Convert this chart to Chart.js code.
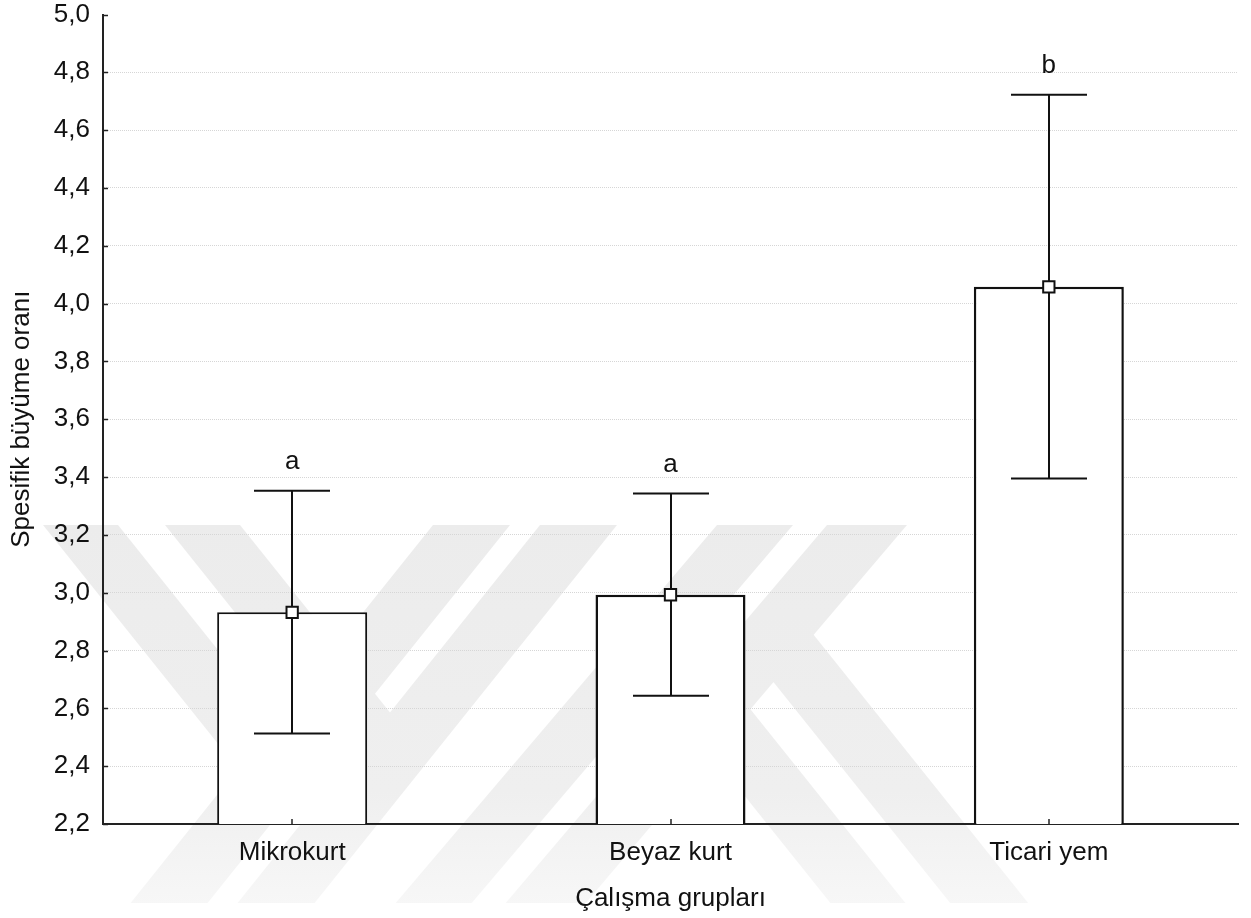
<!DOCTYPE html>
<html lang="tr">
<head>
<meta charset="utf-8">
<title>Spesifik büyüme oranı</title>
<script src="https://cdn.jsdelivr.net/npm/chart.js@4/dist/chart.umd.min.js"></script>
<style>
  html, body { margin: 0; padding: 0; background: #fff; }
  canvas { display: block; }
</style>
</head>
<body>
<canvas id="c" width="1251" height="918"></canvas>
<script>
// Group means with their lower / upper error limits
const groups = ['Mikrokurt', 'Beyaz kurt', 'Ticari yem'];
const means = [2.932, 2.993, 4.058];
const lowerLimits = [2.513, 2.644, 3.395];
const upperLimits = [3.353, 3.343, 4.722];
const groupLetters = ['a', 'a', 'b'];
const yTickValues = [2.2, 2.4, 2.6, 2.8, 3.0, 3.2, 3.4, 3.6, 3.8, 4.0, 4.2, 4.4, 4.6, 4.8, 5.0];

const FONT = '"Liberation Sans", Arial, sans-serif';
const INK = '#111';
const FONT_SIZE = 26;

// Faint diagonal logo printed behind the plot
function slantBand(x0, x1, yTop, yBot, slope) {
  const d = slope * (yBot - yTop);
  return [[x0, yTop], [x1, yTop], [x1 + d, yBot], [x0 + d, yBot]];
}
const logoShapes = [
  slantBand(43, 118, 525, 769, 0.8),
  slantBand(165, 240, 525, 760, 0.8),
  slantBand(433, 510, 525, 903, -0.8),
  slantBand(540, 617, 525, 903, -0.8),
  slantBand(717, 793, 525, 903, -0.85),
  slantBand(827, 907, 525, 903, -0.85),
  slantBand(620, 695, 640, 903, 0.8),
  slantBand(735, 813, 634, 903, 0.8)
];

function fmt(v) {
  return v.toFixed(1).replace('.', ',');
}

const decorPlugin = {
  id: 'decorPlugin',
  beforeDraw(chart) {
    const ctx = chart.ctx;
    ctx.save();
    const g = ctx.createLinearGradient(0, 525, 0, 905);
    g.addColorStop(0, '#ececec');
    g.addColorStop(0.7, '#efefef');
    g.addColorStop(1, '#f7f7f7');
    ctx.fillStyle = g;
    logoShapes.forEach(pts => {
      ctx.beginPath();
      pts.forEach((p, i) => (i ? ctx.lineTo(p[0], p[1]) : ctx.moveTo(p[0], p[1])));
      ctx.closePath();
      ctx.fill();
    });
    ctx.restore();
  },
  afterDatasetDraw(chart, args) {
    if (args.index !== 0) return;
    // error bars: whisker and caps, drawn over the bars, under the mean markers
    const ctx = chart.ctx;
    const y = chart.scales.y;
    const meta = chart.getDatasetMeta(0);
    const capHalf = 38;
    ctx.save();
    ctx.strokeStyle = '#111';
    ctx.lineWidth = 2;
    meta.data.forEach((bar, i) => {
      const x = Math.round(bar.x);
      const yHi = y.getPixelForValue(upperLimits[i]);
      const yLo = y.getPixelForValue(lowerLimits[i]);
      ctx.beginPath();
      ctx.moveTo(x, yHi); ctx.lineTo(x, yLo);
      ctx.moveTo(x - capHalf, yHi); ctx.lineTo(x + capHalf, yHi);
      ctx.moveTo(x - capHalf, yLo); ctx.lineTo(x + capHalf, yLo);
      ctx.stroke();
    });
    ctx.restore();
  },
  afterDatasetsDraw(chart) {
    const ctx = chart.ctx;
    const area = chart.chartArea;
    const y = chart.scales.y;
    const meta = chart.getDatasetMeta(0);
    ctx.save();
    ctx.strokeStyle = '#222';
    ctx.lineWidth = 1.5;
    // inward tick marks on the value axis
    y.ticks.forEach(t => {
      const py = Math.round(y.getPixelForValue(t.value)) + 0.5;
      ctx.beginPath();
      ctx.moveTo(area.left, py); ctx.lineTo(area.left + 5, py);
      ctx.stroke();
    });
    // inward tick marks on the category axis
    meta.data.forEach(bar => {
      const px = Math.round(bar.x);
      ctx.beginPath();
      ctx.moveTo(px, area.bottom); ctx.lineTo(px, area.bottom - 5);
      ctx.stroke();
    });
    // significance letters above the error bars
    ctx.fillStyle = INK;
    ctx.font = FONT_SIZE + 'px ' + FONT;
    ctx.textAlign = 'center';
    ctx.textBaseline = 'alphabetic';
    meta.data.forEach((bar, i) => {
      ctx.fillText(groupLetters[i], bar.x, y.getPixelForValue(upperLimits[i]) - 22);
    });
    ctx.restore();
  }
};

new Chart(document.getElementById('c'), {
  type: 'bar',
  data: {
    labels: groups,
    datasets: [
      {
        type: 'bar',
        data: means,
        backgroundColor: '#ffffff',
        borderColor: '#111',
        borderWidth: [2, 2.5, 2.5],
        borderSkipped: false,
        barPercentage: 0.3965,
        categoryPercentage: 1,
        order: 1
      },
      {
        type: 'line',
        data: means,
        showLine: false,
        pointStyle: 'rect',
        pointRadius: 8,
        pointHoverRadius: 8,
        pointBackgroundColor: '#ffffff',
        pointBorderColor: '#111',
        pointBorderWidth: 2,
        order: 0
      }
    ]
  },
  options: {
    responsive: false,
    animation: false,
    devicePixelRatio: 1,
    layout: { padding: { top: 14.5, right: 13, bottom: 0, left: 0 } },
    plugins: {
      legend: { display: false },
      tooltip: { enabled: false }
    },
    scales: {
      x: {
        grid: { display: false, drawTicks: false },
        border: { display: true, color: '#222', width: 2 },
        ticks: {
          color: INK,
          padding: 13,
          font: { family: FONT, size: FONT_SIZE, lineHeight: 1.2 }
        },
        title: {
          display: true,
          text: 'Çalışma grupları',
          color: INK,
          padding: { top: 0, bottom: 4 },
          font: { family: FONT, size: FONT_SIZE, lineHeight: 1.2 }
        },
        afterFit(scale) { scale.height = 94; }
      },
      y: {
        min: 2.2,
        max: 5.0,
        afterBuildTicks(scale) {
          scale.ticks = yTickValues.map(v => ({ value: v }));
        },
        grid: {
          drawTicks: false,
          lineWidth: 1,
          color: c => (c.tick && c.tick.value >= 5 ? 'rgba(0,0,0,0)' : '#d6d6d6')
        },
        border: { display: true, color: '#222', width: 2, dash: [1, 1] },
        ticks: {
          color: INK,
          padding: 13,
          font: { family: FONT, size: FONT_SIZE, lineHeight: 1 },
          callback: v => fmt(v)
        },
        title: {
          display: true,
          text: 'Spesifik büyüme oranı',
          color: INK,
          padding: { top: 6, bottom: 0 },
          font: { family: FONT, size: FONT_SIZE, lineHeight: 1.2 }
        },
        afterFit(scale) {
          scale.width = 103;
          scale.paddingTop = 0;
          scale.paddingBottom = 0;
        }
      }
    }
  },
  plugins: [decorPlugin]
});
</script>
</body>
</html>
